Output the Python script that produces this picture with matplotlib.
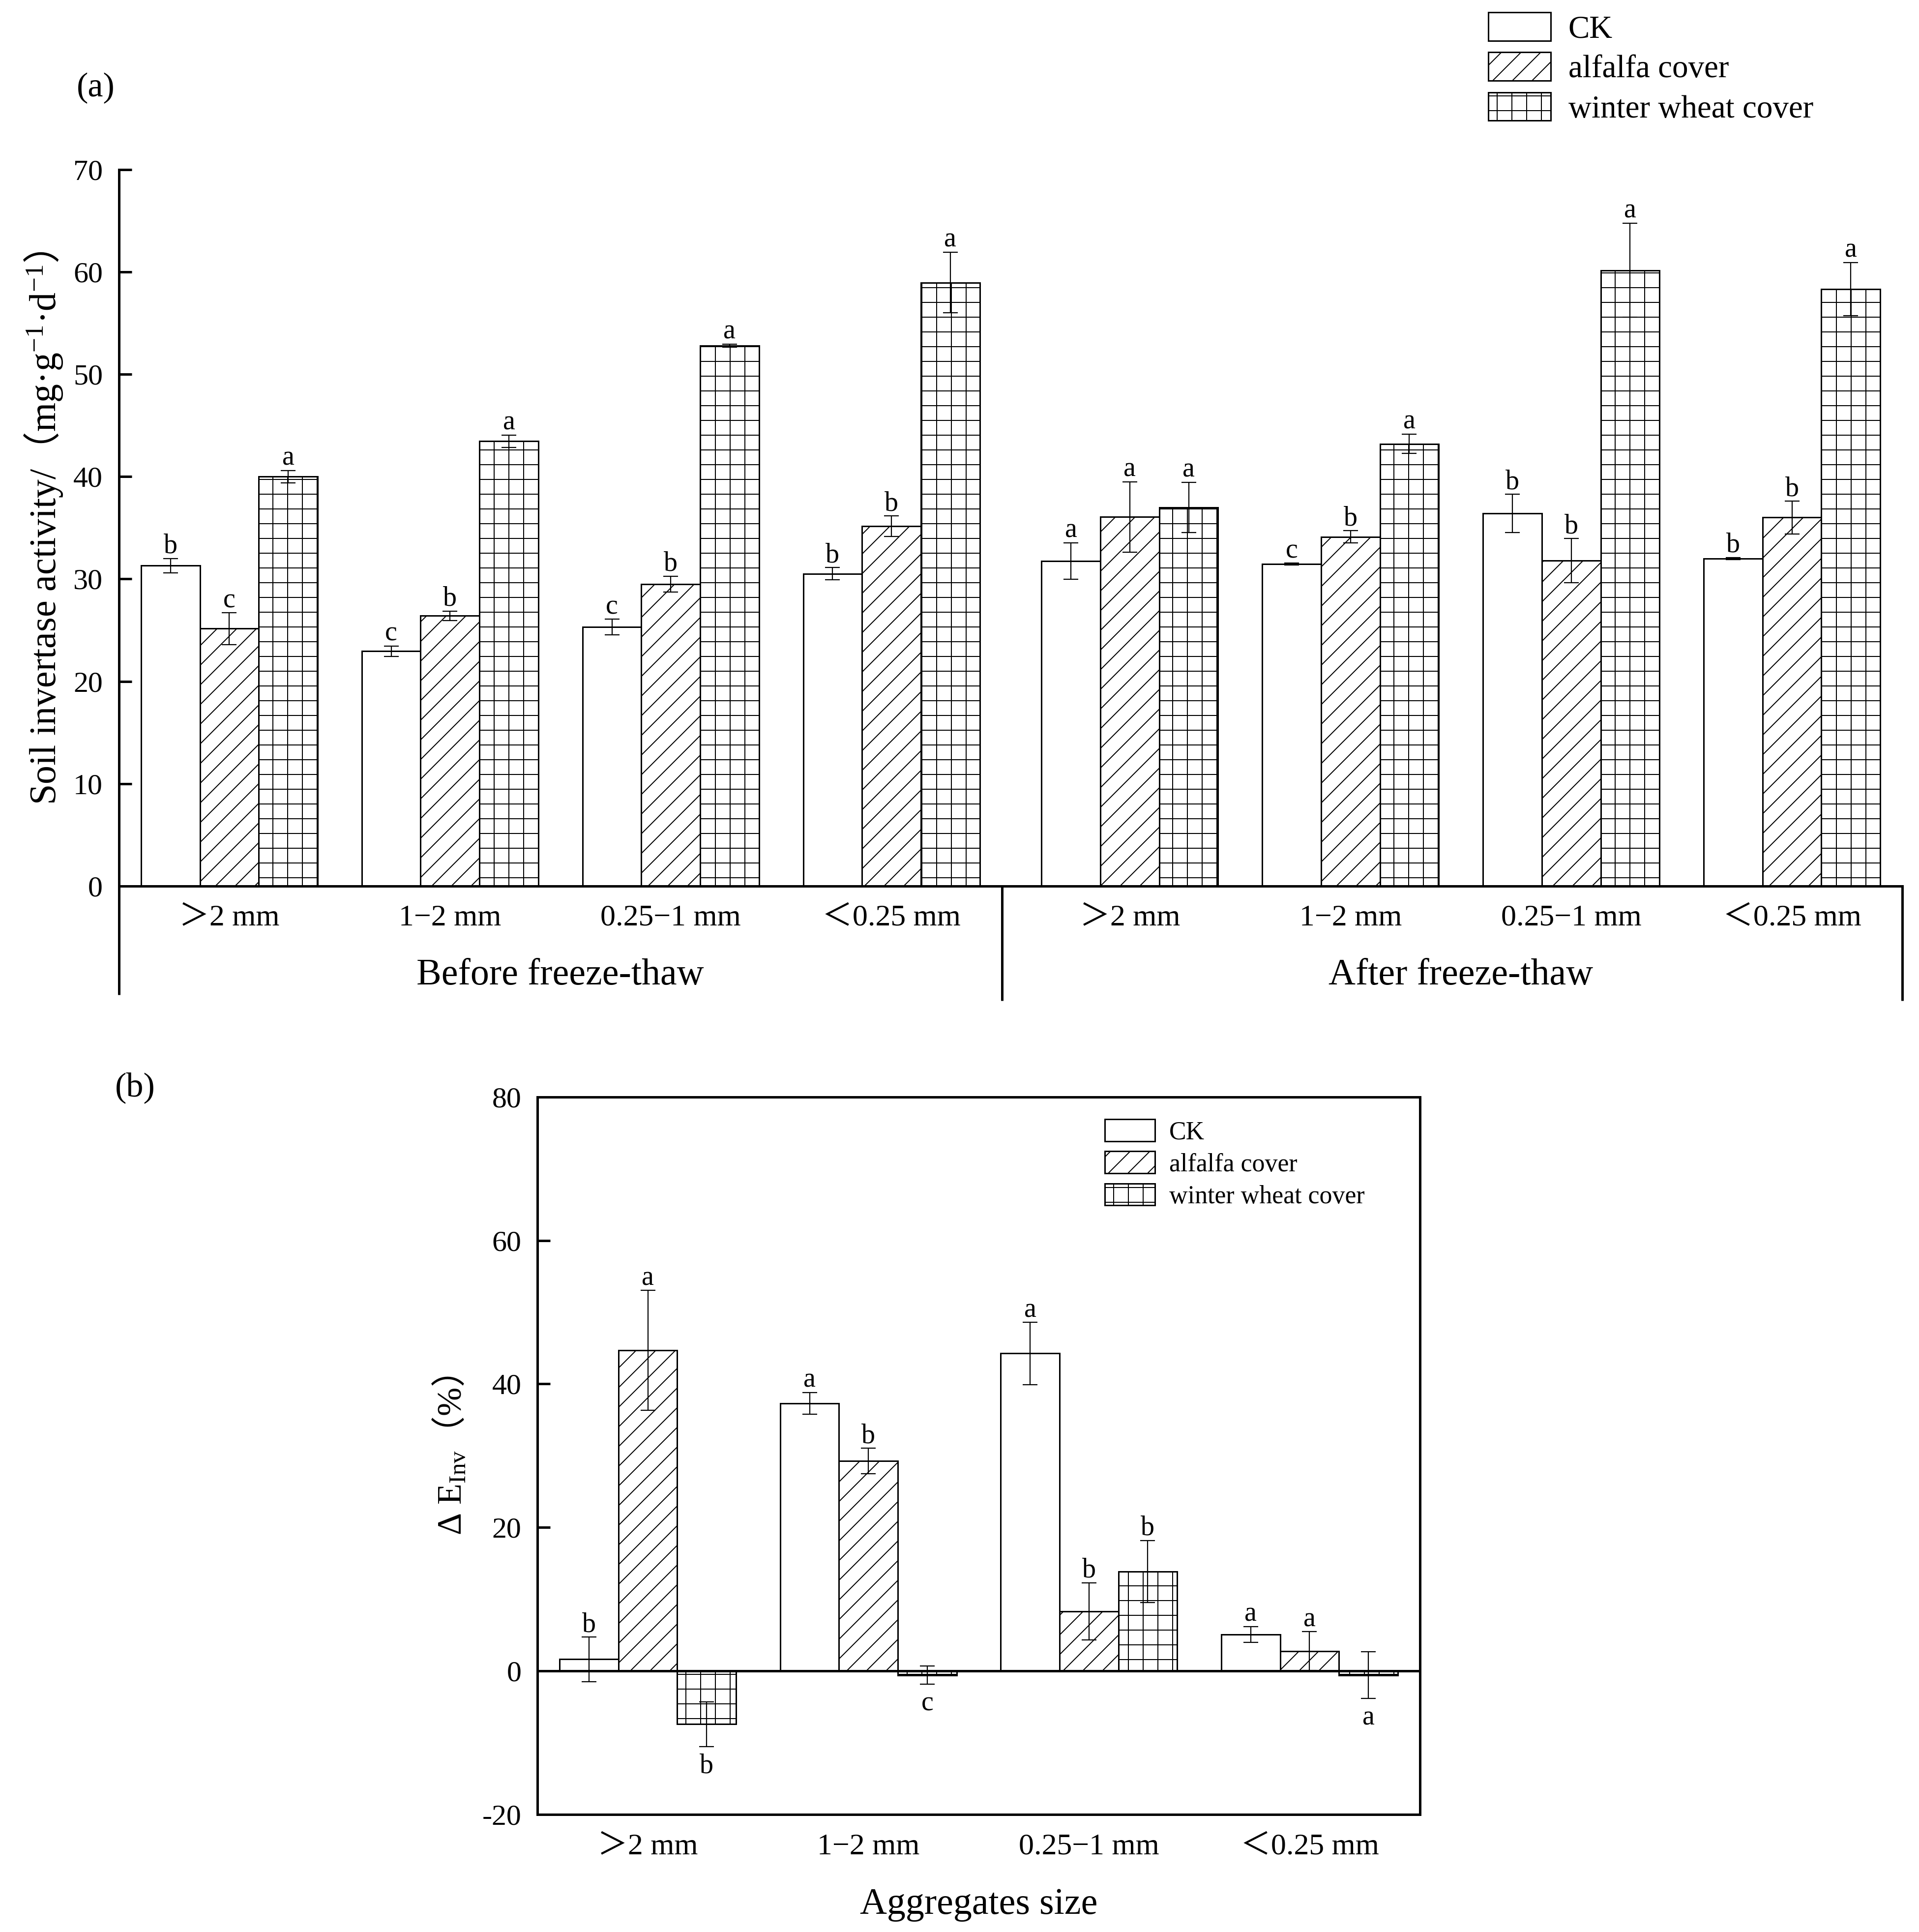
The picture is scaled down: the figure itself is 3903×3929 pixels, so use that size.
import numpy as np
import matplotlib
matplotlib.use('Agg')
import matplotlib.pyplot as plt
from matplotlib.patches import Patch

plt.rcParams['font.family'] = ['Liberation Serif', 'Noto Sans CJK SC']
plt.rcParams['mathtext.fontset'] = 'custom'
plt.rcParams['mathtext.rm'] = 'Liberation Serif'
plt.rcParams['mathtext.it'] = 'Liberation Serif:italic'
plt.rcParams['mathtext.bf'] = 'Liberation Serif:bold'
plt.rcParams['mathtext.sf'] = 'Noto Sans CJK SC'
plt.rcParams['axes.unicode_minus'] = False
plt.rcParams['hatch.linewidth'] = 0.2

DPI = 720
W, H = 3903, 3929

# ---------------- data ----------------
categories = ['＞2 mm', '1−2 mm', '0.25−1 mm', '＜0.25 mm']
periods = ['Before freeze-thaw', 'After freeze-thaw']
treatments = ['CK', 'alfalfa cover', 'winter wheat cover']

ck_before = [31.3, 22.95, 25.3, 30.5]
alf_before = [25.15, 26.4, 29.5, 35.15]
wheat_before = [40.0, 43.45, 52.8, 58.95]
ck_before_err = [0.7, 0.5, 0.76, 0.6]
alf_before_err = [1.55, 0.45, 0.76, 1.0]
wheat_before_err = [0.6, 0.6, 0.15, 2.97]

ck_after = [31.75, 31.45, 36.4, 32.0]
alf_after = [36.05, 34.1, 31.8, 36.0]
wheat_after = [37.0, 43.2, 60.15, 58.3]
ck_after_err = [1.78, 0.1, 1.87, 0.1]
alf_after_err = [3.45, 0.6, 2.15, 1.6]
wheat_after_err = [2.45, 0.95, 4.6, 2.6]

ck_before_sig = ['b', 'c', 'c', 'b']
alf_before_sig = ['c', 'b', 'b', 'b']
wheat_before_sig = ['a', 'a', 'a', 'a']
ck_after_sig = ['a', 'c', 'b', 'b']
alf_after_sig = ['a', 'b', 'b', 'b']
wheat_after_sig = ['a', 'a', 'a', 'a']

ck_delta = [1.6, 37.3, 44.25, 5.05]
alf_delta = [44.7, 29.25, 8.3, 2.75]
wheat_delta = [-7.45, -0.6, 13.85, -0.6]
ck_delta_err = [3.1, 1.5, 4.33, 1.12]
alf_delta_err = [8.35, 1.77, 3.97, 2.7]
wheat_delta_err = [3.1, 1.25, 4.33, 3.25]
ck_delta_sig = ['b', 'a', 'a', 'a']
alf_delta_sig = ['a', 'b', 'b', 'a']
wheat_delta_sig = ['b', 'c', 'b', 'a']

# ---------------- style ----------------
hatches = ['', '//////', '++++']
bar_w = 0.8 / 3
after_gap = 0.08
edge_lw = 0.3
spine_lw = 0.5
err_lw = 0.22
cap = 1.5
tick_fs = 6.0
cat_fs = 6.2
grp_fs = 7.6
sig_fs = 5.6

fig = plt.figure(figsize=(W / DPI, H / DPI), dpi=DPI)
fig.patch.set_facecolor('white')


def draw_bars(ax, xpos, series, errs, sigs):
    for i, (vals, er, sg) in enumerate(zip(series, errs, sigs)):
        x = xpos + (i - 1) * bar_w
        ax.bar(x, vals, bar_w, color='white', edgecolor='k', linewidth=edge_lw,
               hatch=hatches[i], zorder=2)
        ax.errorbar(x, vals, yerr=er, fmt='none', ecolor='k', elinewidth=err_lw,
                    capsize=cap, capthick=err_lw, zorder=3)
        for xx, v, e, s in zip(x, vals, er, sg):
            if v < 0:
                ax.annotate(s, (xx, v - e), xytext=(0, -1.4), textcoords='offset points',
                            ha='center', va='top', fontsize=sig_fs, zorder=4)
            else:
                ax.annotate(s, (xx, v + e), xytext=(0, 1.1), textcoords='offset points',
                            ha='center', va='baseline', fontsize=sig_fs, zorder=4)


# ================= panel (a) =================
ax1 = fig.add_axes([242 / W, 1 - 1802 / H, (3869 - 242) / W, (1802 - 344.5) / H])
pos_before = np.arange(len(categories), dtype=float)
pos_after = np.arange(len(categories)) + len(categories) + after_gap
xpos1 = np.concatenate([pos_before, pos_after])
x_left, x_right = -0.5, pos_after[-1] + 0.5
ax1.set_xlim(x_left, x_right)
ax1.set_ylim(0, 70)

draw_bars(ax1, xpos1,
          [np.array(ck_before + ck_after), np.array(alf_before + alf_after),
           np.array(wheat_before + wheat_after)],
          [ck_before_err + ck_after_err, alf_before_err + alf_after_err,
           wheat_before_err + wheat_after_err],
          [ck_before_sig + ck_after_sig, alf_before_sig + alf_after_sig,
           wheat_before_sig + wheat_after_sig])

for s in ['top', 'right']:
    ax1.spines[s].set_visible(False)
for s in ['left', 'bottom']:
    ax1.spines[s].set_linewidth(spine_lw)
ax1.set_yticks(np.arange(0, 71, 10))
ax1.tick_params(axis='y', direction='in', length=2.6, width=spine_lw, pad=3.3,
                labelsize=tick_fs)
ax1.set_xticks(xpos1)
ax1.set_xticklabels(categories * 2)
ax1.tick_params(axis='x', length=0, pad=3.7, labelsize=cat_fs)

xt = ax1.get_xaxis_transform()
divider = (pos_before[-1] + pos_after[0] - after_gap) / 2
ax1.plot([x_left, x_left], [0, -0.1516], transform=xt, color='k', lw=spine_lw,
         clip_on=False, solid_capstyle='butt')
ax1.plot([divider, divider], [0, -0.16], transform=xt, color='k', lw=spine_lw,
         clip_on=False, solid_capstyle='butt')
ax1.plot([x_right, x_right], [0, -0.16], transform=xt, color='k', lw=spine_lw,
         clip_on=False, solid_capstyle='butt')
ax1.text(pos_before.mean(), -0.1372, periods[0], transform=xt, ha='center',
         va='baseline', fontsize=grp_fs)
ax1.text(pos_after.mean(), -0.1372, periods[1], transform=xt, ha='center',
         va='baseline', fontsize=grp_fs)

ax1.set_ylabel('Soil invertase activity/$\\mathsf{（}$mg·g$^{\\mathrm{-1}}$·d$^{\\mathrm{-1}}\\mathsf{）}$',
               fontsize=7.6)
ax1.yaxis.set_label_coords(-0.0306, 0.5)

handles = [Patch(facecolor='white', edgecolor='k', linewidth=edge_lw, hatch=h, label=t)
           for h, t in zip(hatches, treatments)]
fig.legend(handles=handles, loc='upper left', bbox_to_anchor=(3026.5 / W, 1 - 25 / H),
           bbox_transform=fig.transFigure, frameon=False, borderpad=0, borderaxespad=0,
           fontsize=6.5, handlelength=1.96, handleheight=0.985, handletextpad=0.55,
           labelspacing=0.25)
fig.text(195 / W, 1 - 179 / H, '(a)', ha='center', va='center', fontsize=7.0)

# ================= panel (b) =================
ax2 = fig.add_axes([1093.3 / W, 1 - 3689.5 / H, (2887.8 - 1093.3) / W, (3689.5 - 2231) / H])
xpos2 = np.arange(len(categories), dtype=float)
ax2.set_xlim(-0.5, len(categories) - 0.5)
ax2.set_ylim(-20, 80)
draw_bars(ax2, xpos2,
          [np.array(ck_delta), np.array(alf_delta), np.array(wheat_delta)],
          [ck_delta_err, alf_delta_err, wheat_delta_err],
          [ck_delta_sig, alf_delta_sig, wheat_delta_sig])
ax2.axhline(0, color='k', lw=spine_lw, zorder=4)
for s in ax2.spines.values():
    s.set_linewidth(spine_lw)
ax2.set_yticks(np.arange(-20, 81, 20))
ax2.tick_params(axis='y', direction='in', length=2.6, width=spine_lw, pad=3.3,
                labelsize=tick_fs)
ax2.set_xticks(xpos2)
ax2.set_xticklabels(categories)
ax2.tick_params(axis='x', length=0, pad=3.85, labelsize=cat_fs)
ax2.set_xlabel('Aggregates size', fontsize=7.6, labelpad=5.5)
ax2.set_ylabel('Δ E$_{\\mathrm{Inv}}\\mathsf{（}$%$\\mathsf{）}$', fontsize=7.0)
ax2.yaxis.set_label_coords(-0.0787, 0.5)
ax2.legend(handles=handles, loc='upper left', bbox_to_anchor=(0.643, 0.969),
           frameon=False, borderpad=0, borderaxespad=0, fontsize=5.2,
           handlelength=1.96, handleheight=0.94, handletextpad=0.56, labelspacing=0.27)
fig.text(275 / W, 1 - 2212 / H, '(b)', ha='center', va='center', fontsize=7.0)

fig.savefig('out.png', dpi=DPI, facecolor='white')
